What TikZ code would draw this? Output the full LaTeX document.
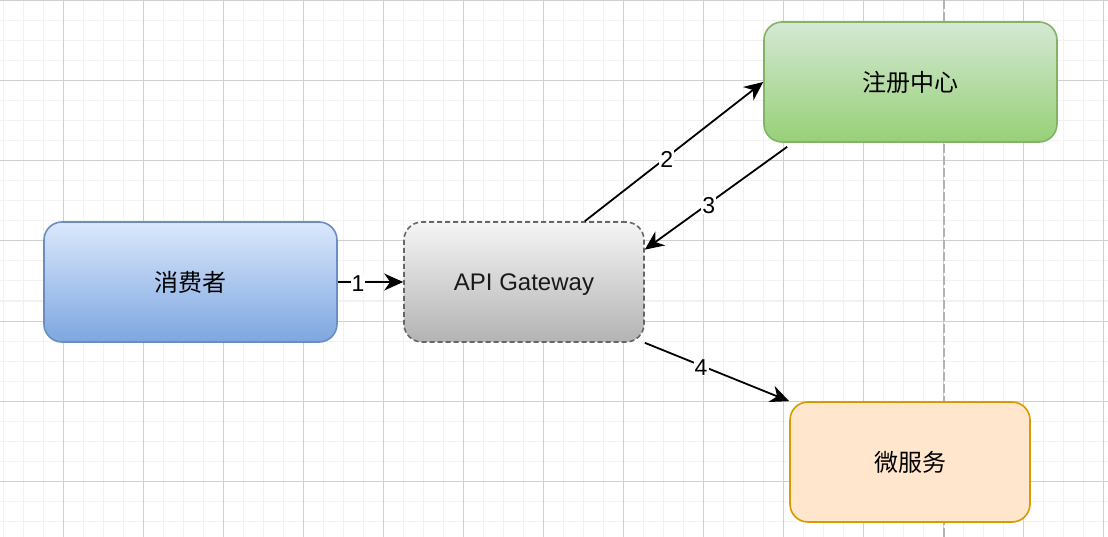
\documentclass[tikz,border=0pt]{standalone}
\usepackage{fontspec}
\setmainfont{Liberation Sans}
\newfontfamily\cjk{Noto Sans CJK SC}
\usetikzlibrary{arrows.meta}
\definecolor{gridminor}{HTML}{F2F2F2}
\definecolor{gridmajor}{HTML}{D0D0D0}
\definecolor{blueTop}{HTML}{DAE8FC}
\definecolor{blueBot}{HTML}{7EA6E0}
\definecolor{blueLine}{HTML}{6C8EBF}
\definecolor{greenTop}{HTML}{D5E8D4}
\definecolor{greenBot}{HTML}{97D077}
\definecolor{greenLine}{HTML}{82B366}
\definecolor{grayTop}{HTML}{F5F5F5}
\definecolor{grayBot}{HTML}{B3B3B3}
\definecolor{grayLine}{HTML}{666666}
\definecolor{orangeFill}{HTML}{FFE6CC}
\definecolor{orangeLine}{HTML}{D79B00}

\begin{document}
\begin{tikzpicture}[x=1pt, y=-1pt,
    box/.style={rounded corners=18pt, minimum height=120pt, inner sep=0pt,
        line width=1.6pt, font=\fontsize{24}{28}\selectfont},
    edge/.style={-{Stealth[length=19pt,width=17pt,inset=6pt]}, line width=1.8pt},
    num/.style={fill=white, inner sep=1pt, yshift=-2pt, font=\fontsize{23}{26}\selectfont}]
    \useasboundingbox (0,0) rectangle (1108,537);
    \fill[white] (0,0) rectangle (1108,537);
    \foreach \gx in {3,23,...,1103}
        \draw[gridminor, line width=1pt] (\gx,0) -- (\gx,537);
    \foreach \gy in {1,21,...,537}
        \draw[gridminor, line width=1pt] (0,\gy) -- (1108,\gy);
    \foreach \gx in {63,143,...,1103}
        \draw[gridmajor, line width=1pt] (\gx,0) -- (\gx,537);
    \foreach \gy in {1,81,...,537}
        \draw[gridmajor, line width=1pt] (0,\gy) -- (1108,\gy);
    \draw[grayBot, line width=1.2pt, dash pattern=on 9pt off 3pt] (944,0) -- (944,537);

    \node[box, minimum width=293pt, draw=blueLine, top color=blueTop, bottom color=blueBot]
        (consumer) at (190.5,282) {\cjk 消费者};
    \node[box, minimum width=240pt, draw=grayLine, dash pattern=on 5pt off 3pt,
        top color=grayTop, bottom color=grayBot, text=black!90, text depth=0pt]
        (gateway) at (524,282) {API Gateway};
    \node[box, minimum width=293pt, draw=greenLine, top color=greenTop, bottom color=greenBot]
        (registry) at (910.5,82) {\cjk 注册中心};
    \node[box, minimum width=240pt, draw=orangeLine, fill=orangeFill]
        (service) at (910,462) {\cjk 微服务};

    \draw[edge] (consumer.east) -- node[num, pos=0.31] {1} (gateway.west);
    \draw[edge] (gateway.45) -- node[num, pos=0.46] {2} (registry.west);
    \draw[edge] ([xshift=24pt,yshift=-4pt]registry.south west) -- node[num, pos=0.55] {3} (gateway.15);
    \draw[edge] (gateway.south east) -- node[num, pos=0.39] {4} (service.north west);
\end{tikzpicture}
\end{document}
